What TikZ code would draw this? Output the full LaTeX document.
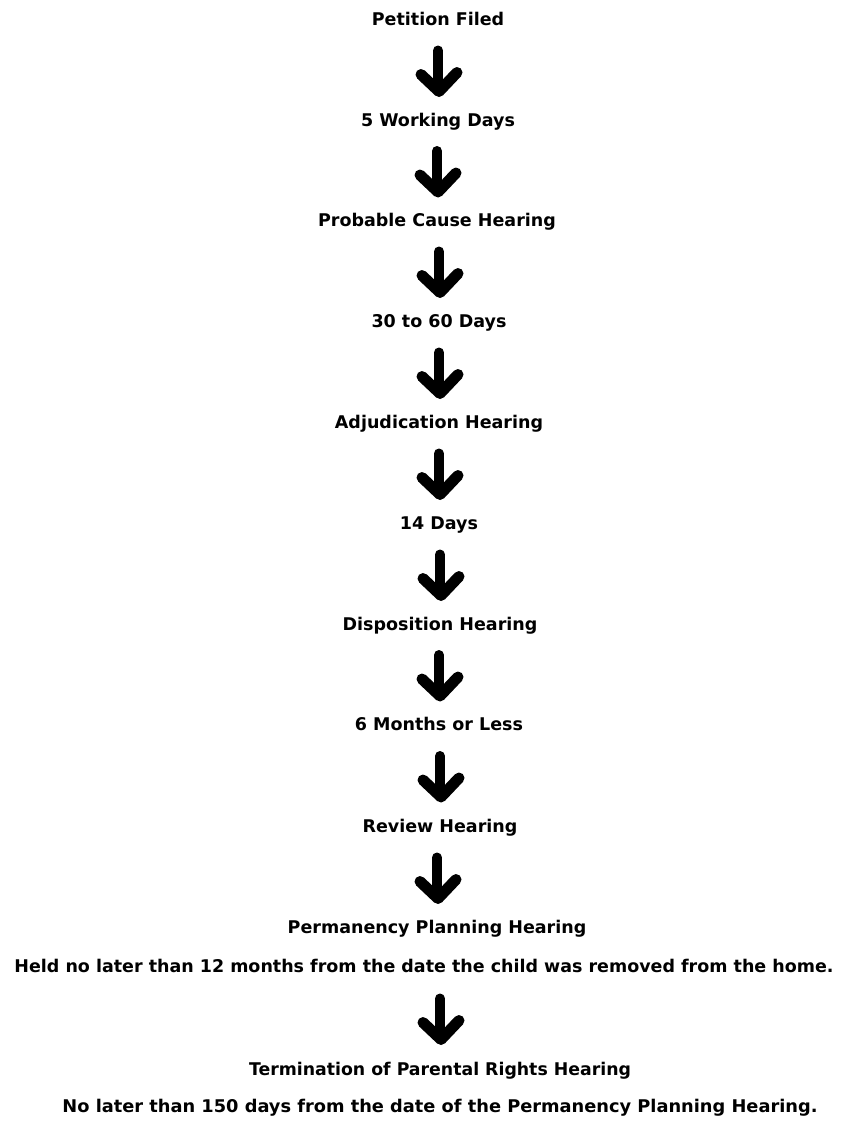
\documentclass[tikz,border=0pt]{standalone}
\usepackage{fontspec}
\setmainfont{DejaVu Sans}
\usetikzlibrary{calc}
\tikzset{
  lbl/.style={inner sep=0pt, text height=13pt, text depth=4pt, font=\fontsize{17.5}{20}\selectfont\bfseries},
  glyph/.style={line width=10pt, line cap=round, line join=round, black},
  headglyph/.style={line width=11pt, line cap=round, line join=round, black},
}
\newcommand{\flowarrow}[2]{%
  \coordinate (t#1) at ($(#1.south)!.5!(#2.north)$);
  \coordinate (m#1) at (t#1 -| #2.north);
  \draw[glyph] ($(m#1)+(0,-21)$) -- ($(m#1)+(0,16)$);
  \draw[headglyph] ($(m#1)+(-17,3)$) -- ($(m#1)+(1,20)$) -- ($(m#1)+(19,1)$);
}
\newcommand{\wbox}[2]{\resizebox{#1}{\height}{#2}}
\begin{document}
\begin{tikzpicture}[x=1pt,y=-1pt]
\path[fill=white] (0,0) rectangle (844,1122);
\useasboundingbox (0,0) rectangle (844,1122);
\node[lbl] (n1) at (438,21) {Petition Filed};
\node[lbl] (n2) at (438,122) {5 Working Days};
\node[lbl] (n3) at (437,222) {Probable Cause Hearing};
\node[lbl] (n4) at (439,323) {30 to 60 Days};
\node[lbl] (n5) at (439,424) {Adjudication Hearing};
\node[lbl] (n6) at (439,525) {14 Days};
\node[lbl] (n7) at (440,626) {Disposition Hearing};
\node[lbl] (n8) at (439,726) {6 Months or Less};
\node[lbl] (n9) at (440,828) {Review Hearing};
\node[lbl] (n10) at (437,929) {Permanency Planning Hearing};
\node[lbl] (n10b) at (424,968) {\wbox{819pt}{Held no later than 12 months from the date the child was removed from the home.}};
\node[lbl] (n11) at (440,1071) {\wbox{382pt}{Termination of Parental Rights Hearing}};
\node[lbl] (n11b) at (440,1108) {\wbox{755pt}{No later than 150 days from the date of the Permanency Planning Hearing.}};
\flowarrow{n1}{n2}
\flowarrow{n2}{n3}
\flowarrow{n3}{n4}
\flowarrow{n4}{n5}
\flowarrow{n5}{n6}
\flowarrow{n6}{n7}
\flowarrow{n7}{n8}
\flowarrow{n8}{n9}
\flowarrow{n9}{n10}
\flowarrow{n10b}{n11}
\end{tikzpicture}
\end{document}
